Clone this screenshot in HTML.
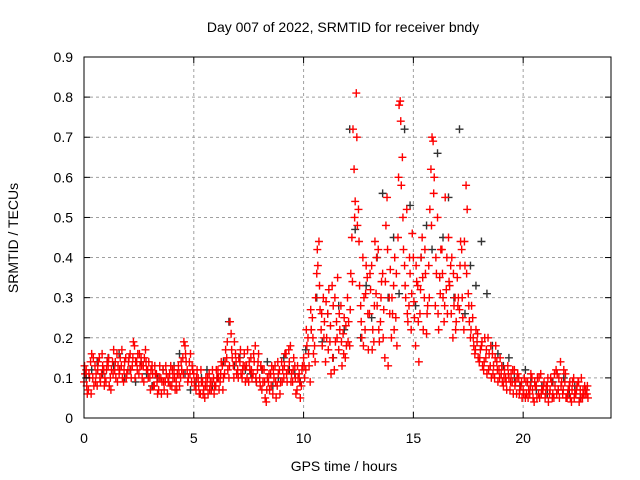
<!DOCTYPE html>
<html><head><meta charset="utf-8"><style>
body{margin:0;background:#fff;}
svg{display:block;font-family:"Liberation Sans",sans-serif;}
</style></head><body>
<svg id="chart" width="640" height="480">
<text x="343" y="32" font-size="14" text-anchor="middle">Day 007 of 2022, SRMTID for receiver bndy</text>
<text x="344" y="471" font-size="14" text-anchor="middle">GPS time / hours</text>
<text transform="translate(18,238) rotate(-90)" font-size="14" text-anchor="middle">SRMTID / TECUs</text>
<g id="grid"></g><g id="marks"></g>
<rect x="84" y="57" width="527" height="361" fill="none" stroke="#000"/>
<g id="ticks"></g>
</svg>
<script>
const xTicks=[0,5,10,15,20];
const yTicks=[0,0.1,0.2,0.3,0.4,0.5,0.6,0.7,0.8,0.9];
const redA=[0.09,0.12,0.07,0.14,0.10,0.13,0.08,0.15,0.11,0.12,
0.09,0.13,0.10,0.14,0.12,0.16,0.11,0.13,0.09,0.15,
0.12,0.16,0.13,0.18,0.14,0.11,0.15,0.13,0.17,0.12,
0.10,0.13,0.08,0.11,0.07,0.10,0.12,0.09,0.06,0.11,
0.08,0.12,0.09,0.13,0.10,0.15,0.18,0.12,0.14,0.09,
0.11,0.07,0.10,0.06,0.09,0.05,0.08,0.11,0.07,0.10,
0.08,0.12,0.09,0.13,0.11,0.15,0.10,0.21,0.13,0.16,
0.12,0.14,0.10,0.16,0.13,0.09,0.15,0.11,0.18,0.12,
0.10,0.07,0.12,0.04,0.09,0.11,0.06,0.13,0.08,0.12,
0.14,0.10,0.16,0.12,0.18,0.09,0.13,0.07,0.11,0.08,
0.15,0.12,0.20,0.09,0.25,0.18,0.36,0.44,0.22,0.30,
0.14,0.26,0.19,0.33,0.12,0.24,0.17,0.28,0.21,0.15,
0.30,0.18,0.45,0.62,0.81,0.52,0.28,0.40,0.22,0.35,
0.26,0.38,0.19,0.31,0.42,0.24,0.36,0.15,0.55,0.30,
0.20,0.33,0.25,0.45,0.79,0.65,0.38,0.52,0.28,0.22,
0.40,0.18,0.33,0.26,0.45,0.30,0.21,0.38,0.62,0.69,
0.28,0.50,0.35,0.42,0.24,0.32,0.45,0.38,0.20,0.30,
0.35,0.27,0.42,0.22,0.58,0.31,0.20,0.25,0.16,0.19,
0.14,0.18,0.12,0.15,0.20,0.13,0.16,0.10,0.14,0.12,
0.11,0.08,0.10,0.13,0.07,0.09,0.12,0.06,0.10,0.08,
0.07,0.05,0.09,0.06,0.10,0.04,0.08,0.06,0.11,0.07,
0.05,0.08,0.06,0.09,0.05,0.12,0.07,0.14,0.06,0.09,
0.05,0.08,0.04,0.10,0.06,0.09,0.07,0.05,0.08,0.06];
const redB=[0.11,0.06,0.10,0.16,0.08,0.11,0.14,0.09,0.13,0.10,
0.14,0.08,0.12,0.17,0.10,0.13,0.15,0.10,0.14,0.11,
0.15,0.10,0.19,0.14,0.16,0.13,0.10,0.15,0.12,0.14,
0.12,0.08,0.11,0.06,0.13,0.09,0.07,0.11,0.09,0.13,
0.10,0.07,0.11,0.08,0.12,0.19,0.14,0.10,0.16,0.12,
0.08,0.12,0.06,0.09,0.07,0.10,0.06,0.09,0.12,0.08,
0.10,0.07,0.14,0.10,0.17,0.12,0.24,0.15,0.19,0.11,
0.15,0.11,0.13,0.09,0.17,0.12,0.10,0.14,0.09,0.16,
0.13,0.09,0.05,0.10,0.07,0.13,0.10,0.05,0.11,0.09,
0.12,0.16,0.09,0.14,0.11,0.15,0.06,0.10,0.05,0.13,
0.10,0.18,0.13,0.22,0.16,0.30,0.38,0.27,0.18,0.24,
0.20,0.32,0.11,0.28,0.19,0.35,0.22,0.13,0.25,0.18,
0.24,0.36,0.72,0.54,0.48,0.33,0.20,0.30,0.38,0.17,
0.32,0.22,0.44,0.28,0.19,0.34,0.27,0.48,0.13,0.37,
0.26,0.40,0.18,0.78,0.58,0.42,0.30,0.24,0.36,0.46,
0.25,0.34,0.14,0.40,0.22,0.36,0.28,0.52,0.70,0.60,
0.36,0.22,0.42,0.30,0.55,0.26,0.33,0.40,0.28,0.24,
0.30,0.44,0.25,0.38,0.52,0.24,0.28,0.18,0.22,0.15,
0.17,0.13,0.20,0.11,0.16,0.10,0.13,0.18,0.09,0.15,
0.09,0.12,0.07,0.10,0.11,0.06,0.09,0.11,0.07,0.05,
0.10,0.06,0.07,0.11,0.05,0.08,0.10,0.05,0.07,0.09,
0.08,0.04,0.10,0.06,0.08,0.11,0.05,0.09,0.12,0.05,
0.07,0.05,0.09,0.06,0.08,0.04,0.10,0.06,0.07,0.05];
const redC=[0.13,0.08,0.11,0.06,0.15,0.09,0.12,0.10,0.16,0.08,
0.12,0.15,0.07,0.11,0.14,0.09,0.12,0.17,0.12,0.10,
0.14,0.12,0.15,0.10,0.12,0.16,0.13,0.09,0.14,0.10,
0.07,0.11,0.13,0.09,0.10,0.06,0.09,0.13,0.10,0.08,
0.12,0.10,0.07,0.11,0.14,0.11,0.16,0.09,0.11,0.13,
0.09,0.10,0.08,0.12,0.06,0.08,0.10,0.07,0.09,0.06,
0.12,0.10,0.11,0.07,0.14,0.19,0.13,0.17,0.10,0.14,
0.10,0.17,0.12,0.13,0.10,0.14,0.12,0.16,0.10,0.14,
0.08,0.12,0.09,0.07,0.11,0.08,0.12,0.09,0.14,0.06,
0.09,0.13,0.11,0.17,0.09,0.12,0.10,0.13,0.09,0.12,
0.13,0.22,0.16,0.27,0.20,0.14,0.42,0.33,0.26,0.20,
0.29,0.17,0.23,0.15,0.30,0.20,0.26,0.19,0.16,0.23,
0.19,0.27,0.34,0.50,0.70,0.44,0.24,0.18,0.31,0.26,
0.36,0.17,0.28,0.40,0.22,0.30,0.20,0.34,0.42,0.26,
0.30,0.22,0.36,0.60,0.74,0.50,0.33,0.26,0.40,0.31,
0.29,0.38,0.24,0.32,0.35,0.42,0.26,0.30,0.48,0.56,
0.40,0.26,0.31,0.36,0.28,0.40,0.34,0.26,0.36,0.22,
0.28,0.38,0.30,0.44,0.36,0.28,0.22,0.20,0.17,0.21,
0.15,0.19,0.14,0.17,0.12,0.18,0.11,0.15,0.12,0.10,
0.13,0.10,0.09,0.11,0.09,0.12,0.08,0.10,0.06,0.09,
0.06,0.09,0.05,0.08,0.07,0.09,0.05,0.10,0.06,0.08,
0.06,0.10,0.07,0.05,0.11,0.06,0.10,0.08,0.07,0.11,
0.06,0.09,0.07,0.05,0.07,0.09,0.05,0.07,0.06,0.08];
const black=[0.10,0.12,0.14,0.11,0.15,0.13,0.16,0.10,0.12,0.09,
0.14,0.11,0.08,0.10,0.12,0.09,0.13,0.16,0.11,0.07,
0.09,0.10,0.12,0.08,0.10,0.14,0.24,0.13,0.15,0.12,
0.11,0.09,0.12,0.14,0.08,0.10,0.15,0.12,0.11,0.09,
0.17,0.22,0.30,0.19,0.26,0.15,0.28,0.22,0.72,0.47,
0.20,0.33,0.25,0.40,0.56,0.30,0.45,0.31,0.72,0.53,
0.28,0.40,0.48,0.42,0.66,0.45,0.55,0.30,0.72,0.26,
0.38,0.33,0.44,0.31,0.18,0.16,0.13,0.15,0.10,0.08,
0.12,0.09,0.07,0.08,0.06,0.09,0.07,0.10,0.06,0.08,
0.05,0.07];
const X=v=>84+v*527/24, Y=v=>418-v*361/0.9;
const ns="http://www.w3.org/2000/svg";
const g=document.getElementById('grid'),m=document.getElementById('marks'),tk=document.getElementById('ticks');
function el(t,a,p){const e=document.createElementNS(ns,t);for(const k in a)e.setAttribute(k,a[k]);p.appendChild(e);return e;}
xTicks.forEach(v=>{const x=X(v);
 if(v>0){const l=el('line',{x1:x,x2:x,y1:57,y2:418,stroke:'#a0a0a0','stroke-dasharray':'3,3'},g);
 
 }
 el('line',{x1:x,x2:x,y1:418,y2:412,stroke:'#000'},tk);el('line',{x1:x,x2:x,y1:57,y2:63,stroke:'#000'},tk);
 const t=el('text',{x:x,y:443,'font-size':14,'text-anchor':'middle'},tk);t.textContent=v;
 
 });
yTicks.forEach(v=>{const y=Y(v);
 if(v>0&&v<0.9){const l=el('line',{x1:84,x2:611,y1:y,y2:y,stroke:'#a0a0a0','stroke-dasharray':'3,3'},g);
 
 }
 el('line',{x1:84,x2:90,y1:y,y2:y,stroke:'#000'},tk);el('line',{x1:611,x2:605,y1:y,y2:y,stroke:'#000'},tk);
 const t=el('text',{x:73,y:y+5,'font-size':14,'text-anchor':'end'},tk);t.textContent=(v===0?'0':v.toFixed(1));
 
 });
function plus(t,v,c,name){const x=X(t),y=Y(v);
 const p=el('path',{d:`M${x-4},${y}h8M${x},${y-4}v8`,stroke:c,'stroke-width':1.4,fill:'none'},m);
 
 }
black.forEach((v,i)=>plus(i*0.25+0.1,v,'#333','black-point'));
redA.forEach((v,i)=>plus(i*0.1,v,'#f00','red-point'));
redB.forEach((v,i)=>plus(i*0.1+0.05,v,'#f00','red-point'));
redC.forEach((v,i)=>plus(i*0.1+0.025,v,'#f00','red-point'));
</script>
</body></html>
